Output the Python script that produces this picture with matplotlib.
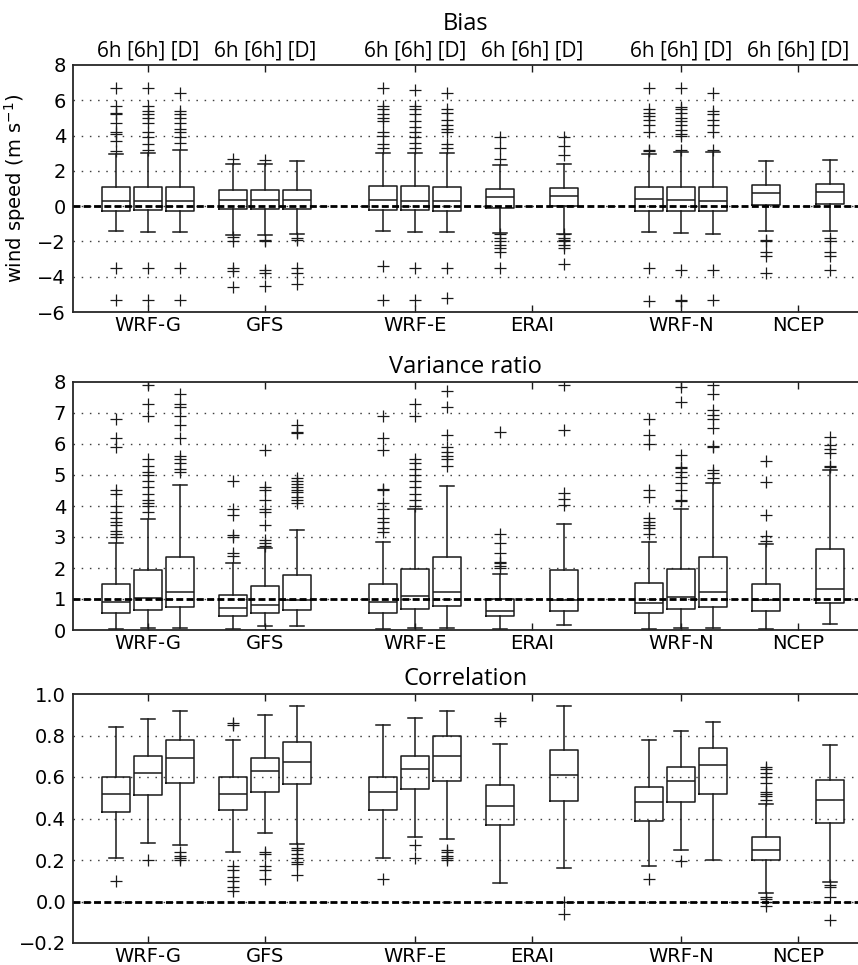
import numpy as np
import matplotlib
matplotlib.use("Agg")
import matplotlib.pyplot as plt
import matplotlib.transforms as mtransforms

# groups and box labels
groups = ["WRF-G", "GFS", "WRF-E", "ERAI", "WRF-N", "NCEP"]
group_boxes = [3, 3, 3, 2, 3, 2]   # ERAI/NCEP have only 6h and [D]
top_label = "6h [6h] [D]"

# ---- Bias (m s-1) ----
bias_med = [0.30, 0.30, 0.30, 0.34, 0.36, 0.32, 0.36, 0.30, 0.30, 0.53, 0.60, 0.38, 0.34, 0.30, 0.74, 0.79]
bias_q1 = [-0.25, -0.23, -0.27, -0.15, -0.15, -0.17, -0.21, -0.21, -0.25, -0.08, 0.0, -0.25, -0.25, -0.28, 0.04, 0.11]
bias_q3 = [1.11, 1.11, 1.11, 0.89, 0.92, 0.92, 1.17, 1.15, 1.11, 0.98, 1.04, 1.06, 1.11, 1.06, 1.19, 1.25]
bias_lo = [-1.42, -1.47, -1.47, -1.62, -1.62, -1.57, -1.42, -1.47, -1.49, -1.51, -1.57, -1.47, -1.53, -1.57, -1.40, -1.43]
bias_hi = [2.98, 3.04, 3.17, 2.40, 2.40, 2.55, 3.00, 3.00, 3.00, 2.34, 2.40, 2.96, 3.09, 3.08, 2.57, 2.64]
bias_fliers = [
    [3.15, 3.7, 4.1, 4.2, 4.7, 5.2, 5.3, 5.7, 6.7, -3.5, -5.3],
    [3.2, 3.5, 3.9, 4.2, 4.7, 5.0, 5.2, 5.4, 5.7, 6.7, -3.5, -5.3],
    [3.6, 3.9, 4.2, 4.4, 4.7, 5.0, 5.2, 5.4, 6.4, -3.5, -5.3],
    [2.7, -1.75, -2.0, -3.5, -3.7, -4.6],
    [2.6, -1.9, -2.0, -3.6, -3.8, -4.5],
    [-1.8, -1.9, -3.5, -3.8, -4.4],
    [3.3, 3.5, 4.0, 4.2, 4.8, 5.0, 5.2, 5.5, 5.7, 6.7, -3.4, -5.3],
    [3.3, 3.6, 3.9, 4.2, 4.5, 4.8, 5.2, 5.5, 5.7, 6.6, -3.5, -5.3],
    [3.3, 3.5, 4.2, 4.4, 4.6, 4.9, 5.3, 5.5, 6.4, -3.5, -5.2],
    [2.7, 3.3, 3.9, -1.6, -1.8, -2.0, -2.2, -2.4, -2.6, -3.5],
    [2.9, 3.4, 3.9, -1.6, -1.8, -1.9, -2.0, -2.2, -2.4, -3.3],
    [3.1, 3.2, 4.2, 4.6, 4.9, 5.1, 5.3, 5.5, 6.7, -3.5, -5.4],
    [3.2, 4.0, 4.1, 4.3, 4.6, 4.8, 5.0, 5.3, 5.5, 5.6, 6.7, -3.6, -5.3, -5.4],
    [3.2, 4.2, 4.6, 4.9, 5.2, 5.4, 6.4, -3.6, -5.3],
    [-1.9, -2.0, -2.6, -2.8, -3.8],
    [-1.8, -2.0, -2.6, -2.8, -3.6],
]

# ---- Variance ratio ----
var_med = [0.89, 1.04, 1.22, 0.71, 0.82, 0.97, 0.89, 1.10, 1.24, 0.62, 0.97, 0.87, 1.05, 1.23, 0.96, 1.33]
var_q1 = [0.54, 0.65, 0.73, 0.45, 0.56, 0.64, 0.56, 0.69, 0.78, 0.44, 0.61, 0.55, 0.67, 0.75, 0.61, 0.87]
var_q3 = [1.49, 1.92, 2.34, 1.14, 1.43, 1.78, 1.49, 1.98, 2.36, 1.00, 1.92, 1.52, 1.98, 2.36, 1.49, 2.60]
var_lo = [0.04, 0.06, 0.06, 0.04, 0.13, 0.13, 0.04, 0.06, 0.06, 0.04, 0.16, 0.04, 0.06, 0.06, 0.04, 0.19]
var_hi = [2.82, 3.58, 4.68, 2.17, 2.63, 3.23, 2.83, 3.91, 4.66, 1.81, 3.42, 2.85, 3.91, 4.74, 2.77, 5.17]
var_fliers = [
    [3.0, 3.1, 3.2, 3.4, 3.5, 3.6, 3.8, 4.0, 4.4, 4.5, 5.9, 6.2, 6.8],
    [3.8, 4.0, 4.1, 4.2, 4.4, 4.6, 4.8, 5.0, 5.1, 5.3, 5.5, 6.9, 7.3, 7.9],
    [5.1, 5.2, 5.4, 5.5, 5.6, 6.2, 6.6, 6.9, 7.2, 7.3, 7.6],
    [2.4, 2.5, 3.0, 3.05, 3.7, 3.9, 4.8],
    [2.7, 2.8, 2.9, 3.4, 3.8, 3.9, 4.2, 4.5, 4.6, 5.8],
    [4.1, 4.2, 4.3, 4.45, 4.5, 4.6, 4.7, 4.8, 4.9, 6.35, 6.4, 6.6],
    [3.15, 3.3, 3.5, 3.6, 3.9, 4.1, 4.5, 4.55, 5.8, 6.2, 6.9],
    [4.0, 4.2, 4.4, 4.6, 4.8, 5.0, 5.2, 5.4, 5.5, 6.9, 7.3],
    [5.3, 5.5, 5.6, 5.75, 5.9, 6.3, 7.2, 7.7],
    [1.99, 2.05, 2.15, 2.2, 2.5, 2.82, 3.09, 6.38],
    [4.04, 4.23, 4.41, 6.46, 7.91],
    [3.1, 3.3, 3.4, 3.5, 3.6, 4.3, 4.5, 6.0, 6.3, 6.8],
    [4.15, 4.2, 4.52, 4.74, 4.95, 5.11, 5.22, 5.27, 5.65, 7.35, 7.83],
    [4.9, 5.06, 5.17, 5.9, 5.95, 6.5, 6.8, 6.95, 7.1, 7.6, 7.9],
    [2.88, 3.04, 3.71, 4.77, 5.44],
    [5.25, 5.3, 5.7, 5.85, 5.97, 6.24],
]

# ---- Correlation ----
cor_med = [0.52, 0.62, 0.69, 0.52, 0.63, 0.67, 0.53, 0.64, 0.70, 0.46, 0.61, 0.48, 0.58, 0.66, 0.25, 0.49]
cor_q1 = [0.43, 0.515, 0.57, 0.44, 0.53, 0.565, 0.44, 0.54, 0.58, 0.37, 0.485, 0.39, 0.48, 0.52, 0.20, 0.38]
cor_q3 = [0.60, 0.70, 0.78, 0.60, 0.69, 0.77, 0.60, 0.70, 0.80, 0.56, 0.73, 0.55, 0.65, 0.74, 0.31, 0.585]
cor_lo = [0.21, 0.28, 0.27, 0.24, 0.33, 0.275, 0.21, 0.31, 0.30, 0.09, 0.16, 0.17, 0.25, 0.20, 0.04, 0.095]
cor_hi = [0.84, 0.88, 0.92, 0.78, 0.90, 0.94, 0.85, 0.885, 0.92, 0.76, 0.94, 0.78, 0.82, 0.865, 0.47, 0.755]
cor_fliers = [
    [0.10],
    [0.20],
    [0.20, 0.21, 0.22, 0.24],
    [0.85, 0.86, 0.05, 0.07, 0.10, 0.12, 0.15, 0.17],
    [0.11, 0.15, 0.17, 0.23, 0.24],
    [0.13, 0.18, 0.19, 0.21, 0.23, 0.25, 0.26],
    [0.11],
    [0.21, 0.27],
    [0.20, 0.21, 0.22, 0.24, 0.25],
    [0.87, 0.885],
    [0.0, -0.06],
    [0.11],
    [0.195],
    [],
    [0.49, 0.51, 0.52, 0.53, 0.57, 0.60, 0.62, 0.64, 0.65, 0.02, 0.01, 0.0, -0.02],
    [0.08, 0.07, 0.02, -0.09],
]

# layout: group centres and box offsets
centres = [1.0, 2.0, 3.28, 4.28, 5.56, 6.56]
step = 0.274
positions = []
for c, nb in zip(centres, group_boxes):
    if nb == 3:
        positions += [c - step, c, c + step]
    else:
        positions += [c - step, c + step]


def make_stats(med, q1, q3, lo, hi, fl):
    out = []
    for i in range(len(med)):
        out.append(dict(med=med[i], q1=q1[i], q3=q3[i], whislo=lo[i],
                        whishi=hi[i], fliers=np.array(fl[i])))
    return out


panels = [
    ("Bias", make_stats(bias_med, bias_q1, bias_q3, bias_lo, bias_hi, bias_fliers),
     (-6, 8), np.arange(-6, 8.1, 2), 0, "%d", 25),
    ("Variance ratio", make_stats(var_med, var_q1, var_q3, var_lo, var_hi, var_fliers),
     (0, 8), np.arange(0, 8.1, 1), 1, "%d", 6.5),
    ("Correlation", make_stats(cor_med, cor_q1, cor_q3, cor_lo, cor_hi, cor_fliers),
     (-0.2, 1.0), np.arange(-0.2, 1.01, 0.2), 0, "%.1f", 6.5),
]

fig = plt.figure(figsize=(8.58, 9.65), dpi=100)
W, H = 858.0, 965.0
ax_boxes = [(65, 312), (382, 630), (694, 943)]
left = 73 / W

lw = 1.1
for (title, stats, ylim, yticks, ref, fmt, tpad), (ytop, ybot) in zip(panels, ax_boxes):
    ax = fig.add_axes([left, 1 - ybot / H, 1 - left, (ybot - ytop) / H])
    ax.bxp(stats, positions=positions, widths=0.24, showfliers=True,
           boxprops=dict(color="0.1", lw=lw),
           whiskerprops=dict(color="0.1", lw=lw, ls="-"),
           capprops=dict(color="0.1", lw=lw),
           medianprops=dict(color="0.1", lw=lw),
           flierprops=dict(marker="+", markeredgecolor="0.1", markersize=8,
                           markeredgewidth=0.9, ls="none"),
           manage_ticks=False)
    ax.axhline(ref, color="black", lw=2, ls=(0, (2.5, 1.2)), zorder=5)
    ax.set_ylim(*ylim)
    ax.set_xlim(0.359, 7.07)
    ax.set_yticks(yticks)
    ax.set_yticklabels([(fmt % v).replace("-", "\u2212") for v in yticks])
    for v in yticks[1:-1]:
        ax.axhline(v, color="0.25", lw=1, ls=(0, (1.1, 4.8)), zorder=0)
    ax.set_xticks(centres)
    ax.set_xticklabels(groups)
    ax.tick_params(axis="x", direction="in", top=True, length=5, width=1,
                   labelsize=14, pad=3, color="0.1")
    ax.tick_params(axis="y", length=0, labelsize=14, pad=5)
    ax.spines["right"].set_visible(False)
    for s in ["left", "top", "bottom"]:
        ax.spines[s].set_linewidth(1.3)
        ax.spines[s].set_color("0.15")
    ax.set_title(title, fontsize=17, family="Open Sans", pad=tpad)
    if title == "Bias":
        trans = mtransforms.blended_transform_factory(ax.transData, ax.transAxes)
        for c in centres:
            ax.text(c, 1.015, top_label, transform=trans, ha="center", va="bottom",
                    fontsize=15, family="Open Sans")
        ax.set_ylabel("wind speed (m s$^{-1}$)", fontsize=14)
        ax.yaxis.set_label_coords(-0.057, 0.5)

fig.savefig("out.png", dpi=100)
